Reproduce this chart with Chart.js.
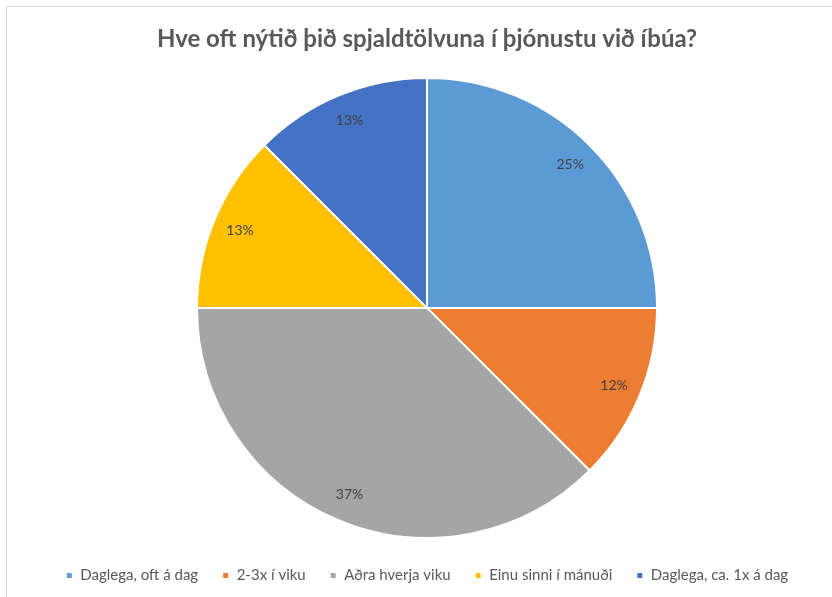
<!DOCTYPE html>
<html>
<head>
<meta charset="utf-8">
<script src="https://cdn.jsdelivr.net/npm/chart.js@4"></script>
<style>
  html, body { margin: 0; padding: 0; background: #fff; }
  #frame { position: absolute; left: 6px; top: 6px; width: 840px; height: 600px; border: 1px solid #d9d9d9; }
  #wrap { position: absolute; left: 0; top: 0; width: 832px; height: 597px; }
</style>
</head>
<body>
<div id="frame"></div>
<div id="wrap"><canvas id="pie_chart"></canvas></div>
<script>
let categories = ['Daglega, oft á dag', '2-3x í viku', 'Aðra hverja viku', 'Einu sinni í mánuði', 'Daglega, ca. 1x á dag'];
let shares = [25, 12.5, 37.5, 12.5, 12.5];
let shareLabels = ['25%', '12%', '37%', '13%', '13%'];
let colors = ['#5B9BD5', '#ED7D31', '#A5A5A5', '#FFC000', '#4472C4'];

// data labels placed inside each slice, near the rim
let sliceLabels = {
    id: 'sliceLabels',
    afterDatasetsDraw: function(chart) {
        let ctx = chart.ctx;
        ctx.save();
        ctx.font = '14px Lato';
        ctx.fillStyle = '#404040';
        ctx.textAlign = 'center';
        ctx.textBaseline = 'middle';
        chart.getDatasetMeta(0).data.forEach(function(arc, i) {
            let mid = (arc.startAngle + arc.endAngle) / 2;
            let r = arc.outerRadius * 0.88;
            ctx.fillText(shareLabels[i], arc.x + Math.cos(mid) * r, arc.y + Math.sin(mid) * r);
        });
        ctx.restore();
    }
};

Chart.defaults.font.family = 'Lato';
Chart.defaults.color = '#595959';

let pie = new Chart(document.getElementById('pie_chart'), {
    type: 'pie',
    data: {
        labels: categories,
        datasets: [
            {
                data: shares,
                backgroundColor: colors,
                borderColor: '#ffffff',
                borderWidth: 2
            }
        ]
    },
    options: {
        responsive: true,
        maintainAspectRatio: false,
        animation: false,
        radius: 230,
        layout: { padding: { left: 22, right: 0, top: 0, bottom: 4 } },
        plugins: {
            title: {
                display: true,
                text: 'Hve oft nýtið þið spjaldtölvuna í þjónustu við íbúa?',
                font: { size: 24, weight: 'bold' },
                color: '#595959',
                padding: { top: 25, bottom: 18 }
            },
            legend: {
                position: 'bottom',
                labels: { boxWidth: 7, boxHeight: 7, padding: 24, font: { size: 15 } }
            },
            tooltip: { enabled: false }
        }
    },
    plugins: [sliceLabels]
});
</script>
</body>
</html>
